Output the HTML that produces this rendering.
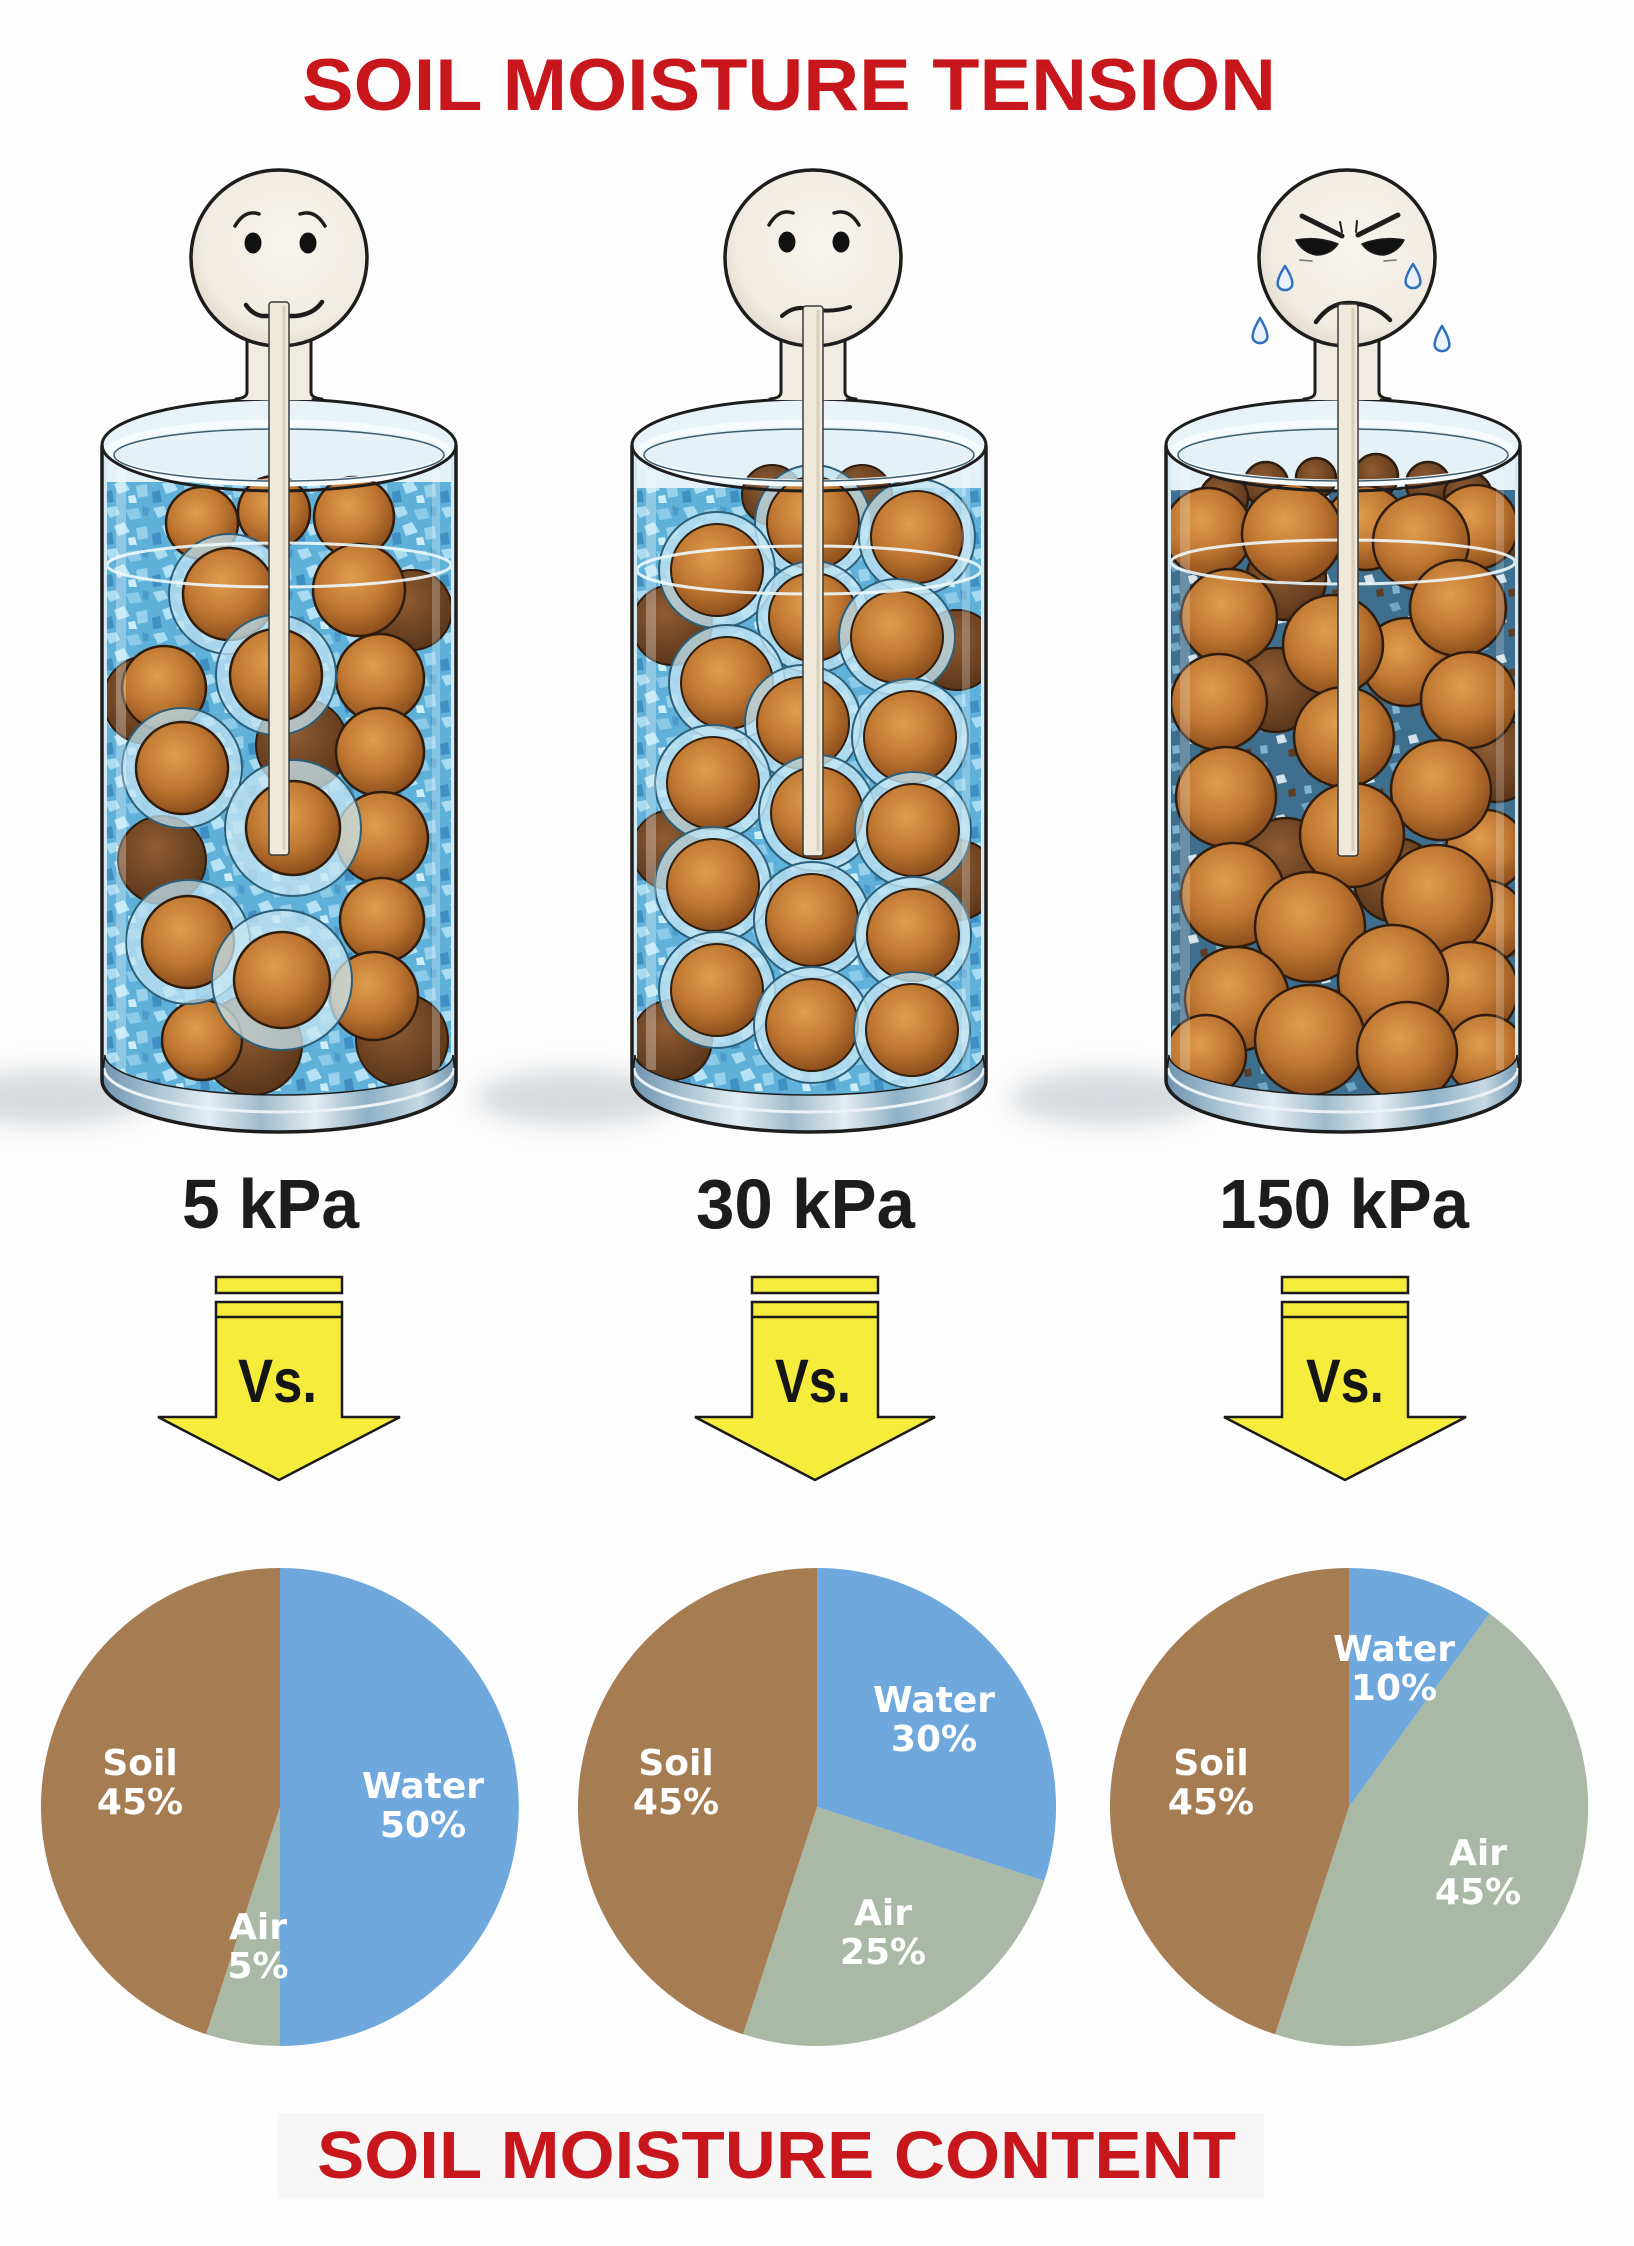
<!DOCTYPE html>
<html><head><meta charset="utf-8"><style>
html,body{margin:0;padding:0;background:#fdfdfd;}
svg{display:block;}
</style></head><body>
<svg width="1634" height="2246" viewBox="0 0 1634 2246" xmlns="http://www.w3.org/2000/svg">
<defs>
<clipPath id="cc" clipPathUnits="userSpaceOnUse"><path d="M5,455 A172,28 0 0 1 349,455 L349,1060 A172,42 0 0 1 5,1060 Z"/></clipPath>
<pattern id="ice" width="48" height="42" patternUnits="userSpaceOnUse">
<rect width="48" height="42" fill="#5fb1da"/>
<path d="M3,4 L14,2 L18,10 L8,14 Z" fill="#a9dcf1"/>
<path d="M24,6 L36,4 L40,14 L28,16 Z" fill="#8ccbe8"/>
<path d="M12,22 L22,18 L28,28 L16,32 Z" fill="#b5e2f4"/>
<path d="M34,24 L45,22 L46,34 L36,36 Z" fill="#97d1ec"/>
<path d="M2,30 L10,28 L12,40 L3,41 Z" fill="#3f8fc2"/>
<path d="M26,34 L33,33 L35,41 L27,41 Z" fill="#cdeef9"/>
<path d="M40,2 L47,4 L46,12 L41,11 Z" fill="#4c9ccb"/>
</pattern>
<pattern id="ice3" width="44" height="40" patternUnits="userSpaceOnUse">
<rect width="44" height="40" fill="#3f6f8e"/>
<path d="M3,4 L12,2 L15,9 L7,12 Z" fill="#6fa6c6"/>
<path d="M22,16 L30,14 L33,22 L24,24 Z" fill="#d4e2ea"/>
<path d="M34,30 L41,28 L42,36 L35,37 Z" fill="#5a3e28"/>
<path d="M6,26 L13,25 L14,33 L7,34 Z" fill="#7fb3cf"/>
</pattern>
<radialGradient id="ball" cx="0.42" cy="0.36" r="0.66">
<stop offset="0" stop-color="#df9d4d"/><stop offset="0.55" stop-color="#c07832"/><stop offset="1" stop-color="#8a4c1c"/>
</radialGradient>
<radialGradient id="ballD" cx="0.42" cy="0.36" r="0.66">
<stop offset="0" stop-color="#8f5c33"/><stop offset="1" stop-color="#5a3519"/>
</radialGradient>
<radialGradient id="faceG" cx="0.55" cy="0.42" r="0.6">
<stop offset="0" stop-color="#f8f5ef"/><stop offset="0.8" stop-color="#f1ece2"/><stop offset="1" stop-color="#e3dccd"/>
</radialGradient>
<linearGradient id="base" x1="0" x2="1" y1="0" y2="0">
<stop offset="0" stop-color="#6f93ad"/><stop offset="0.15" stop-color="#a9c3d4"/><stop offset="0.3" stop-color="#e3edf3"/><stop offset="0.45" stop-color="#9fbbcc"/><stop offset="0.6" stop-color="#e4edf2"/><stop offset="0.75" stop-color="#8fb0c5"/><stop offset="0.9" stop-color="#c5d8e3"/><stop offset="1" stop-color="#6f93ad"/>
</linearGradient>
<linearGradient id="glassTop" x1="0" x2="0" y1="0" y2="1">
<stop offset="0" stop-color="#e6f3f8"/><stop offset="1" stop-color="#bfe1ef"/>
</linearGradient>
<filter id="blur" x="-50%" y="-50%" width="200%" height="200%"><feGaussianBlur stdDeviation="12"/></filter>
</defs>

<rect width="1634" height="2246" fill="#fdfdfd"/>

<text x="302" y="110" font-family="Liberation Sans, sans-serif" font-weight="700" font-size="73" fill="#c8161d" textLength="974" lengthAdjust="spacingAndGlyphs">SOIL MOISTURE TENSION</text>

<ellipse cx="50" cy="1098" rx="100" ry="28" fill="#b8bfc6" opacity="0.55" filter="url(#blur)"/>
<ellipse cx="575" cy="1098" rx="100" ry="28" fill="#b8bfc6" opacity="0.55" filter="url(#blur)"/>
<ellipse cx="1110" cy="1098" rx="100" ry="28" fill="#b8bfc6" opacity="0.55" filter="url(#blur)"/>

<!-- CYLINDER 1 -->
<g transform="translate(102,0)">
<path d="M0,445 L0,1080 A177,52 0 0 0 354,1080 L354,445 Z" fill="#d4e9f2"/>
<ellipse cx="177" cy="445" rx="177" ry="46" fill="#e8f3f7"/>
<g clip-path="url(#cc)">
<rect x="0" y="420" width="354" height="700" fill="url(#glassTop)"/>
<rect x="0" y="482" width="354" height="640" fill="url(#ice)"/>
<circle cx="45" cy="700" r="44" fill="url(#ballD)" stroke="#2e1c0e" stroke-width="2"/>
<circle cx="200" cy="745" r="46" fill="url(#ballD)" stroke="#2e1c0e" stroke-width="2"/>
<circle cx="310" cy="610" r="40" fill="url(#ballD)" stroke="#2e1c0e" stroke-width="2"/>
<circle cx="60" cy="860" r="44" fill="url(#ballD)" stroke="#2e1c0e" stroke-width="2"/>
<circle cx="150" cy="1045" r="50" fill="url(#ballD)" stroke="#2e1c0e" stroke-width="2"/>
<circle cx="300" cy="1040" r="46" fill="url(#ballD)" stroke="#2e1c0e" stroke-width="2"/>
<circle cx="100" cy="523" r="36" fill="url(#ball)" stroke="#2e1c0e" stroke-width="2.5"/>
<circle cx="172" cy="512" r="36" fill="url(#ball)" stroke="#2e1c0e" stroke-width="2.5"/>
<circle cx="252" cy="517" r="40" fill="url(#ball)" stroke="#2e1c0e" stroke-width="2.5"/>
<circle cx="257" cy="590" r="46" fill="url(#ball)" stroke="#2e1c0e" stroke-width="2.5"/>
<circle cx="62" cy="688" r="42" fill="url(#ball)" stroke="#2e1c0e" stroke-width="2.5"/>
<circle cx="278" cy="678" r="44" fill="url(#ball)" stroke="#2e1c0e" stroke-width="2.5"/>
<circle cx="278" cy="752" r="44" fill="url(#ball)" stroke="#2e1c0e" stroke-width="2.5"/>
<circle cx="280" cy="838" r="46" fill="url(#ball)" stroke="#2e1c0e" stroke-width="2.5"/>
<circle cx="280" cy="920" r="42" fill="url(#ball)" stroke="#2e1c0e" stroke-width="2.5"/>
<circle cx="272" cy="996" r="44" fill="url(#ball)" stroke="#2e1c0e" stroke-width="2.5"/>
<circle cx="100" cy="1040" r="40" fill="url(#ball)" stroke="#2e1c0e" stroke-width="2.5"/>
<circle cx="127" cy="594" r="60" fill="#bfe3f1" fill-opacity="0.75" stroke="#2d5f78" stroke-width="2"/>
<circle cx="127" cy="594" r="46" fill="url(#ball)" stroke="#2e1c0e" stroke-width="2.5"/>
<circle cx="174" cy="675" r="60" fill="#bfe3f1" fill-opacity="0.75" stroke="#2d5f78" stroke-width="2"/>
<circle cx="174" cy="675" r="46" fill="url(#ball)" stroke="#2e1c0e" stroke-width="2.5"/>
<circle cx="80" cy="768" r="60" fill="#bfe3f1" fill-opacity="0.75" stroke="#2d5f78" stroke-width="2"/>
<circle cx="80" cy="768" r="46" fill="url(#ball)" stroke="#2e1c0e" stroke-width="2.5"/>
<circle cx="191" cy="828" r="68" fill="#c9e8f3" fill-opacity="0.75" stroke="#2d5f78" stroke-width="2"/>
<circle cx="191" cy="828" r="47" fill="url(#ball)" stroke="#2e1c0e" stroke-width="2.5"/>
<circle cx="86" cy="942" r="62" fill="#bfe3f1" fill-opacity="0.75" stroke="#2d5f78" stroke-width="2"/>
<circle cx="86" cy="942" r="46" fill="url(#ball)" stroke="#2e1c0e" stroke-width="2.5"/>
<circle cx="180" cy="980" r="70" fill="#c9e8f3" fill-opacity="0.75" stroke="#2d5f78" stroke-width="2"/>
<circle cx="180" cy="980" r="48" fill="url(#ball)" stroke="#2e1c0e" stroke-width="2.5"/>
<ellipse cx="177" cy="565" rx="172" ry="22" fill="none" stroke="#eef8fb" stroke-width="3" opacity="0.9"/>
<rect x="14" y="470" width="10" height="600" fill="#fff" opacity="0.3"/>
<rect x="330" y="470" width="8" height="600" fill="#fff" opacity="0.25"/>
</g>
<path d="M3,1055 A174,40 0 0 0 351,1055 L354,1080 A177,52 0 0 1 0,1080 Z" fill="url(#base)" stroke="#1d1d1d" stroke-width="1.5"/>
<path d="M2,1068 A175,44 0 0 0 352,1068" fill="none" stroke="#eaf2f7" stroke-width="3"/>
<ellipse cx="177" cy="453" rx="170" ry="30" fill="none" stroke="#f6fbfd" stroke-width="7"/>
<ellipse cx="177" cy="455" rx="165" ry="26" fill="none" stroke="#3d5d6d" stroke-width="1.5"/>
<path d="M0,445 L0,1080 A177,52 0 0 0 354,1080 L354,445" fill="none" stroke="#1d1d1d" stroke-width="3.5"/>
<ellipse cx="177" cy="445" rx="177" ry="46" fill="none" stroke="#1d1d1d" stroke-width="3"/>
</g>

<!-- CYLINDER 2 -->
<g transform="translate(632,0)">
<path d="M0,445 L0,1080 A177,52 0 0 0 354,1080 L354,445 Z" fill="#d4e9f2"/>
<ellipse cx="177" cy="445" rx="177" ry="46" fill="#e8f3f7"/>
<g clip-path="url(#cc)">
<rect x="0" y="420" width="354" height="700" fill="url(#glassTop)"/>
<rect x="0" y="488" width="354" height="640" fill="url(#ice)"/>
<circle cx="40" cy="625" r="40" fill="url(#ballD)" stroke="#2e1c0e" stroke-width="2"/>
<circle cx="325" cy="650" r="40" fill="url(#ballD)" stroke="#2e1c0e" stroke-width="2"/>
<circle cx="40" cy="850" r="40" fill="url(#ballD)" stroke="#2e1c0e" stroke-width="2"/>
<circle cx="325" cy="880" r="40" fill="url(#ballD)" stroke="#2e1c0e" stroke-width="2"/>
<circle cx="40" cy="1040" r="40" fill="url(#ballD)" stroke="#2e1c0e" stroke-width="2"/>
<circle cx="140" cy="495" r="30" fill="url(#ballD)" stroke="#2e1c0e" stroke-width="2"/>
<circle cx="230" cy="495" r="30" fill="url(#ballD)" stroke="#2e1c0e" stroke-width="2"/>
<g stroke-width="2">
<circle cx="181" cy="523" r="58" fill="#bfe3f1" fill-opacity="0.8" stroke="#2d5f78"/><circle cx="181" cy="523" r="46" fill="url(#ball)" stroke="#2e1c0e"/>
<circle cx="285" cy="537" r="58" fill="#bfe3f1" fill-opacity="0.8" stroke="#2d5f78"/><circle cx="285" cy="537" r="46" fill="url(#ball)" stroke="#2e1c0e"/>
<circle cx="85" cy="570" r="58" fill="#bfe3f1" fill-opacity="0.8" stroke="#2d5f78"/><circle cx="85" cy="570" r="46" fill="url(#ball)" stroke="#2e1c0e"/>
<circle cx="181" cy="617" r="56" fill="#bfe3f1" fill-opacity="0.8" stroke="#2d5f78"/><circle cx="181" cy="617" r="44" fill="url(#ball)" stroke="#2e1c0e"/>
<circle cx="265" cy="637" r="58" fill="#bfe3f1" fill-opacity="0.8" stroke="#2d5f78"/><circle cx="265" cy="637" r="46" fill="url(#ball)" stroke="#2e1c0e"/>
<circle cx="95" cy="683" r="58" fill="#bfe3f1" fill-opacity="0.8" stroke="#2d5f78"/><circle cx="95" cy="683" r="46" fill="url(#ball)" stroke="#2e1c0e"/>
<circle cx="171" cy="723" r="58" fill="#bfe3f1" fill-opacity="0.8" stroke="#2d5f78"/><circle cx="171" cy="723" r="46" fill="url(#ball)" stroke="#2e1c0e"/>
<circle cx="278" cy="737" r="58" fill="#bfe3f1" fill-opacity="0.8" stroke="#2d5f78"/><circle cx="278" cy="737" r="46" fill="url(#ball)" stroke="#2e1c0e"/>
<circle cx="81" cy="783" r="58" fill="#bfe3f1" fill-opacity="0.8" stroke="#2d5f78"/><circle cx="81" cy="783" r="46" fill="url(#ball)" stroke="#2e1c0e"/>
<circle cx="185" cy="813" r="58" fill="#bfe3f1" fill-opacity="0.8" stroke="#2d5f78"/><circle cx="185" cy="813" r="46" fill="url(#ball)" stroke="#2e1c0e"/>
<circle cx="281" cy="830" r="58" fill="#bfe3f1" fill-opacity="0.8" stroke="#2d5f78"/><circle cx="281" cy="830" r="46" fill="url(#ball)" stroke="#2e1c0e"/>
<circle cx="81" cy="885" r="58" fill="#bfe3f1" fill-opacity="0.8" stroke="#2d5f78"/><circle cx="81" cy="885" r="46" fill="url(#ball)" stroke="#2e1c0e"/>
<circle cx="180" cy="920" r="58" fill="#bfe3f1" fill-opacity="0.8" stroke="#2d5f78"/><circle cx="180" cy="920" r="46" fill="url(#ball)" stroke="#2e1c0e"/>
<circle cx="281" cy="935" r="58" fill="#bfe3f1" fill-opacity="0.8" stroke="#2d5f78"/><circle cx="281" cy="935" r="46" fill="url(#ball)" stroke="#2e1c0e"/>
<circle cx="85" cy="990" r="58" fill="#bfe3f1" fill-opacity="0.8" stroke="#2d5f78"/><circle cx="85" cy="990" r="46" fill="url(#ball)" stroke="#2e1c0e"/>
<circle cx="180" cy="1025" r="58" fill="#bfe3f1" fill-opacity="0.8" stroke="#2d5f78"/><circle cx="180" cy="1025" r="46" fill="url(#ball)" stroke="#2e1c0e"/>
<circle cx="280" cy="1030" r="58" fill="#bfe3f1" fill-opacity="0.8" stroke="#2d5f78"/><circle cx="280" cy="1030" r="46" fill="url(#ball)" stroke="#2e1c0e"/>
</g>
<ellipse cx="177" cy="570" rx="172" ry="24" fill="none" stroke="#eef8fb" stroke-width="3" opacity="0.9"/>
<rect x="14" y="470" width="10" height="600" fill="#fff" opacity="0.3"/>
<rect x="330" y="470" width="8" height="600" fill="#fff" opacity="0.25"/>
</g>
<path d="M3,1055 A174,40 0 0 0 351,1055 L354,1080 A177,52 0 0 1 0,1080 Z" fill="url(#base)" stroke="#1d1d1d" stroke-width="1.5"/>
<path d="M2,1068 A175,44 0 0 0 352,1068" fill="none" stroke="#eaf2f7" stroke-width="3"/>
<ellipse cx="177" cy="453" rx="170" ry="30" fill="none" stroke="#f6fbfd" stroke-width="7"/>
<ellipse cx="177" cy="455" rx="165" ry="26" fill="none" stroke="#3d5d6d" stroke-width="1.5"/>
<path d="M0,445 L0,1080 A177,52 0 0 0 354,1080 L354,445" fill="none" stroke="#1d1d1d" stroke-width="3.5"/>
<ellipse cx="177" cy="445" rx="177" ry="46" fill="none" stroke="#1d1d1d" stroke-width="3"/>
</g>

<!-- CYLINDER 3 -->
<g transform="translate(1166,0)">
<path d="M0,445 L0,1080 A177,52 0 0 0 354,1080 L354,445 Z" fill="#d4e9f2"/>
<ellipse cx="177" cy="445" rx="177" ry="46" fill="#e8f3f7"/>
<g clip-path="url(#cc)">
<rect x="0" y="420" width="354" height="700" fill="url(#glassTop)"/>
<rect x="0" y="490" width="354" height="640" fill="url(#ice3)"/>
<g stroke="#2e1c0e" stroke-width="2.5">
<circle cx="100" cy="484" r="22" fill="url(#ballD)"/>
<circle cx="150" cy="478" r="20" fill="url(#ballD)"/>
<circle cx="210" cy="476" r="22" fill="url(#ballD)"/>
<circle cx="262" cy="484" r="22" fill="url(#ballD)"/>
<circle cx="58" cy="498" r="24" fill="url(#ballD)"/>
<circle cx="302" cy="496" r="24" fill="url(#ballD)"/>
<circle cx="110" cy="690" r="42" fill="url(#ballD)"/>
<circle cx="230" cy="880" r="42" fill="url(#ballD)"/>
<circle cx="120" cy="860" r="42" fill="url(#ballD)"/>
<circle cx="330" cy="760" r="42" fill="url(#ballD)"/>
<circle cx="120" cy="580" r="40" fill="url(#ballD)"/>
<circle cx="42" cy="532" r="44" fill="url(#ball)"/>
<circle cx="200" cy="528" r="42" fill="url(#ball)"/>
<circle cx="310" cy="527" r="42" fill="url(#ball)"/>
<circle cx="126" cy="534" r="50" fill="url(#ball)"/>
<circle cx="255" cy="542" r="48" fill="url(#ball)"/>
<circle cx="240" cy="662" r="44" fill="url(#ball)"/>
<circle cx="63" cy="617" r="48" fill="url(#ball)"/>
<circle cx="292" cy="608" r="48" fill="url(#ball)"/>
<circle cx="167" cy="645" r="50" fill="url(#ball)"/>
<circle cx="53" cy="702" r="48" fill="url(#ball)"/>
<circle cx="303" cy="700" r="48" fill="url(#ball)"/>
<circle cx="178" cy="737" r="50" fill="url(#ball)"/>
<circle cx="320" cy="850" r="40" fill="url(#ball)"/>
<circle cx="275" cy="790" r="50" fill="url(#ball)"/>
<circle cx="60" cy="797" r="50" fill="url(#ball)"/>
<circle cx="186" cy="835" r="52" fill="url(#ball)"/>
<circle cx="318" cy="922" r="42" fill="url(#ball)"/>
<circle cx="67" cy="895" r="52" fill="url(#ball)"/>
<circle cx="271" cy="900" r="55" fill="url(#ball)"/>
<circle cx="144" cy="927" r="55" fill="url(#ball)"/>
<circle cx="304" cy="990" r="48" fill="url(#ball)"/>
<circle cx="71" cy="999" r="52" fill="url(#ball)"/>
<circle cx="227" cy="980" r="55" fill="url(#ball)"/>
<circle cx="40" cy="1055" r="40" fill="url(#ball)"/>
<circle cx="320" cy="1055" r="40" fill="url(#ball)"/>
<circle cx="144" cy="1040" r="55" fill="url(#ball)"/>
<circle cx="241" cy="1052" r="50" fill="url(#ball)"/>
</g>
<ellipse cx="177" cy="562" rx="172" ry="22" fill="none" stroke="#eef8fb" stroke-width="3" opacity="0.9"/>
<rect x="14" y="470" width="10" height="600" fill="#fff" opacity="0.22"/>
<rect x="330" y="470" width="8" height="600" fill="#fff" opacity="0.2"/>
</g>
<path d="M3,1055 A174,40 0 0 0 351,1055 L354,1080 A177,52 0 0 1 0,1080 Z" fill="url(#base)" stroke="#1d1d1d" stroke-width="1.5"/>
<path d="M2,1068 A175,44 0 0 0 352,1068" fill="none" stroke="#eaf2f7" stroke-width="3"/>
<ellipse cx="177" cy="453" rx="170" ry="30" fill="none" stroke="#f6fbfd" stroke-width="7"/>
<ellipse cx="177" cy="455" rx="165" ry="26" fill="none" stroke="#3d5d6d" stroke-width="1.5"/>
<path d="M0,445 L0,1080 A177,52 0 0 0 354,1080 L354,445" fill="none" stroke="#1d1d1d" stroke-width="3.5"/>
<ellipse cx="177" cy="445" rx="177" ry="46" fill="none" stroke="#1d1d1d" stroke-width="3"/>
</g>

<!-- NECKS & FACES -->
<g stroke="#1d1d1d" stroke-linecap="round" stroke-linejoin="round">
<path d="M247,330 L247,392 Q247,399 238,400 L312,400 Q311,399 311,392 L311,330 Z" fill="#f1ece2" stroke="none"/>
<path d="M247,330 L247,392 Q247,398 236,399" fill="none" stroke-width="3"/>
<path d="M311,330 L311,392 Q311,398 322,399" fill="none" stroke-width="3"/>
<circle cx="279" cy="258" r="88" fill="url(#faceG)" stroke-width="3.5"/>
<ellipse cx="253" cy="243" rx="8.5" ry="10.5" fill="#111" stroke="none"/>
<ellipse cx="308" cy="243" rx="8.5" ry="10.5" fill="#111" stroke="none"/>
<path d="M235,226 Q245,209 259,214" fill="none" stroke-width="3.5"/>
<path d="M300,214 Q315,209 325,226" fill="none" stroke-width="3.5"/>
<path d="M246,305 Q252,314 262,316 L296,316 Q314,314 322,302" fill="none" stroke-width="4.5"/>

<path d="M781,330 L781,392 Q781,399 772,400 L846,400 Q845,399 845,392 L845,330 Z" fill="#f1ece2" stroke="none"/>
<path d="M781,330 L781,392 Q781,398 770,399" fill="none" stroke-width="3"/>
<path d="M845,330 L845,392 Q845,398 856,399" fill="none" stroke-width="3"/>
<circle cx="813" cy="258" r="88" fill="url(#faceG)" stroke-width="3.5"/>
<ellipse cx="787" cy="242" rx="8.5" ry="10.5" fill="#111" stroke="none"/>
<ellipse cx="841" cy="242" rx="8.5" ry="10.5" fill="#111" stroke="none"/>
<path d="M769,225 Q779,208 793,213" fill="none" stroke-width="3.5"/>
<path d="M834,213 Q849,208 859,225" fill="none" stroke-width="3.5"/>
<path d="M782,316 Q794,305 810,309 Q832,313 850,307" fill="none" stroke-width="4"/>

<path d="M1315,330 L1315,392 Q1315,399 1306,400 L1380,400 Q1379,399 1379,392 L1379,330 Z" fill="#f1ece2" stroke="none"/>
<path d="M1315,330 L1315,392 Q1315,398 1304,399" fill="none" stroke-width="3"/>
<path d="M1379,330 L1379,392 Q1379,398 1390,399" fill="none" stroke-width="3"/>
<circle cx="1347" cy="258" r="88" fill="url(#faceG)" stroke-width="3.5"/>
<path d="M1302,216 L1342,236" fill="none" stroke-width="5"/>
<path d="M1398,215 L1358,235" fill="none" stroke-width="5"/>
<path d="M1340,222 L1342,232 M1357,221 L1356,232" fill="none" stroke-width="2"/>
<path d="M1296,240 Q1318,236 1338,244 Q1330,255 1316,255 Q1302,252 1296,240 Z" fill="#111" stroke-width="1.5"/>
<path d="M1362,244 Q1382,236 1404,240 Q1398,252 1384,255 Q1370,255 1362,244 Z" fill="#111" stroke-width="1.5"/>
<path d="M1300,260 L1312,261 M1384,261 L1396,260" fill="none" stroke-width="1.5" stroke="#777"/>
<path d="M1316,322 Q1330,302 1350,303 Q1375,304 1390,320" fill="none" stroke-width="4.5"/>
</g>
<g fill="#eaf2fb" stroke="#2f6fc0" stroke-width="2.5" stroke-linejoin="round">
<path d="M1285,266 Q1294,280 1292,286 A8,8 0 0 1 1278,286 Q1276,280 1285,266 Z"/>
<path d="M1413,264 Q1422,278 1420,284 A8,8 0 0 1 1406,284 Q1404,278 1413,264 Z"/>
<path d="M1260,318 Q1269,333 1267,339 A8,8 0 0 1 1253,339 Q1251,333 1260,318 Z"/>
<path d="M1442,326 Q1451,341 1449,347 A8,8 0 0 1 1435,347 Q1433,341 1442,326 Z"/>
</g>

<g fill="#efe9da" stroke="#3a3a3a" stroke-width="1.5">
<rect x="269" y="302" width="20" height="553" rx="3"/>
<rect x="803" y="306" width="20" height="550" rx="3"/>
<rect x="1338" y="304" width="20" height="552" rx="3"/>
</g>
<g stroke="#d8cfbb" stroke-width="3">
<line x1="284" y1="306" x2="284" y2="850"/>
<line x1="818" y1="310" x2="818" y2="851"/>
<line x1="1353" y1="308" x2="1353" y2="851"/>
</g>

<g font-family="Liberation Sans, sans-serif" font-weight="700" font-size="70" fill="#1c1c1c">
<text x="182" y="1228" textLength="177" lengthAdjust="spacingAndGlyphs">5 kPa</text>
<text x="696" y="1228" textLength="219" lengthAdjust="spacingAndGlyphs">30 kPa</text>
<text x="1219" y="1228" textLength="250" lengthAdjust="spacingAndGlyphs">150 kPa</text>
</g>

<g fill="#f6ec3c" stroke="#1a1a1a" stroke-width="2.5" stroke-linejoin="miter">
<g transform="translate(279,0)">
<rect x="-63" y="1277" width="126" height="16"/>
<path d="M-63,1302 L63,1302 L63,1417 L121,1417 L0,1480 L-121,1417 L-63,1417 Z"/>
<line x1="-63" y1="1317" x2="63" y2="1317"/>
</g>
<g transform="translate(815,0)">
<rect x="-63" y="1277" width="126" height="16"/>
<path d="M-63,1302 L63,1302 L63,1417 L120,1417 L0,1480 L-120,1417 L-63,1417 Z"/>
<line x1="-63" y1="1317" x2="63" y2="1317"/>
</g>
<g transform="translate(1345,0)">
<rect x="-63" y="1277" width="126" height="16"/>
<path d="M-63,1302 L63,1302 L63,1417 L121,1417 L0,1480 L-121,1417 L-63,1417 Z"/>
<line x1="-63" y1="1317" x2="63" y2="1317"/>
</g>
</g>
<g font-family="Liberation Sans, sans-serif" font-weight="700" font-size="61" fill="#151515">
<text x="238" y="1402" textLength="79" lengthAdjust="spacingAndGlyphs">Vs.</text>
<text x="775" y="1402" textLength="76" lengthAdjust="spacingAndGlyphs">Vs.</text>
<text x="1306" y="1402" textLength="78" lengthAdjust="spacingAndGlyphs">Vs.</text>
</g>

<path d="M280,1807 L280,1568 A239,239 0 0 1 280,2046 Z" fill="#6fa8dc"/>
<path d="M280,1807 L280,2046 A239,239 0 0 1 206.1,2034.3 Z" fill="#a9b9a6"/>
<path d="M280,1807 L206.1,2034.3 A239,239 0 0 1 280,1568 Z" fill="#a67c52"/>

<path d="M817,1807 L817,1568 A239,239 0 0 1 1044.3,1880.9 Z" fill="#6fa8dc"/>
<path d="M817,1807 L1044.3,1880.9 A239,239 0 0 1 743.1,2034.3 Z" fill="#a9b9a6"/>
<path d="M817,1807 L743.1,2034.3 A239,239 0 0 1 817,1568 Z" fill="#a67c52"/>

<path d="M1349,1807 L1349,1568 A239,239 0 0 1 1489.5,1613.6 Z" fill="#6fa8dc"/>
<path d="M1349,1807 L1489.5,1613.6 A239,239 0 0 1 1275.1,2034.3 Z" fill="#a9b9a6"/>
<path d="M1349,1807 L1275.1,2034.3 A239,239 0 0 1 1349,1568 Z" fill="#a67c52"/>

<g font-family="DejaVu Sans, Liberation Sans, sans-serif" font-weight="700" font-size="36" fill="#ffffff" text-anchor="middle">
<text x="140" y="1775">Soil</text><text x="140" y="1814">45%</text>
<text x="423" y="1798">Water</text><text x="423" y="1837">50%</text>
<text x="258" y="1939">Air</text><text x="258" y="1978">5%</text>
<text x="676" y="1775">Soil</text><text x="676" y="1814">45%</text>
<text x="934" y="1712">Water</text><text x="934" y="1751">30%</text>
<text x="883" y="1925">Air</text><text x="883" y="1964">25%</text>
<text x="1211" y="1775">Soil</text><text x="1211" y="1814">45%</text>
<text x="1394" y="1661">Water</text><text x="1394" y="1700">10%</text>
<text x="1478" y="1865">Air</text><text x="1478" y="1904">45%</text>
</g>

<rect x="278" y="2113" width="986" height="85" fill="#f7f7f7"/>
<text x="317" y="2178" font-family="Liberation Sans, sans-serif" font-weight="700" font-size="67" fill="#c8161d" textLength="919" lengthAdjust="spacingAndGlyphs">SOIL MOISTURE CONTENT</text>
</svg>
</body></html>
